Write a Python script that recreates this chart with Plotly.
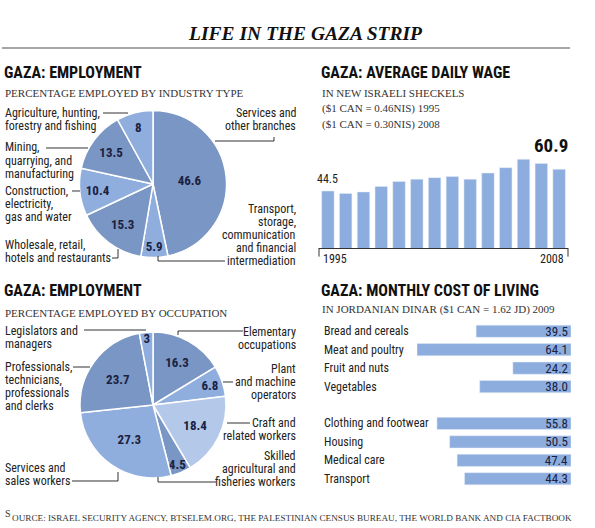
import plotly.graph_objects as go

W, H = 595, 528

# ---------------- data ----------------
industry_labels = ["Services and\nother branches",
                   "Transport,\nstorage,\ncommunication\nand financial\nintermediation",
                   "Wholesale, retail,\nhotels and restaurants",
                   "Construction,\nelectricity,\ngas and water",
                   "Mining,\nquarrying, and\nmanufacturing",
                   "Agriculture, hunting,\nforestry and fishing"]
industry_values = [46.6, 5.9, 15.3, 10.4, 13.5, 8]

occupation_labels = ["Elementary\noccupations",
                     "Plant\nand machine\noperators",
                     "Craft and\nrelated workers",
                     "Skilled\nagricultural and\nfisheries workers",
                     "Services and\nsales workers",
                     "Professionals,\ntechnicians,\nprofessionals\nand clerks",
                     "Legislators and\nmanagers"]
occupation_values = [16.3, 6.8, 18.4, 4.5, 27.3, 23.7, 3]

wage_years = [1995, 1996, 1997, 1998, 1999, 2000, 2001, 2002, 2003, 2004, 2005, 2006, 2007, 2008]
wage_values = [44.5, 43.2, 44.0, 46.8, 49.4, 50.6, 51.4, 52.0, 50.6, 53.8, 56.6, 60.9, 58.8, 55.7]

cost_items = ["Bread and cereals", "Meat and poultry", "Fruit and nuts", "Vegetables",
              "Clothing and footwear", "Housing", "Medical care", "Transport"]
cost_values = [39.5, 64.1, 24.2, 38.0, 55.8, 50.5, 47.4, 44.3]
cost_rows = [0, 1, 2, 3, 5, 6, 7, 8]

# ---------------- styles ----------------
SANS = "Liberation Sans Narrow, Roboto Condensed, DejaVu Sans Condensed, Arial Narrow, Liberation Sans, sans-serif"
SERIF = "Liberation Serif, DejaVu Serif, serif"
DARK = "#7A96C4"
LIGHT = "#8FAEDD"
LIGHTEST = "#B4C8EA"
BAR = "#8CADDE"
TXT = "#222222"
NUM = "#1B2140"

def px(x):
    return x / W

def py(y):
    return 1 - y / H

fig = go.Figure()

# ---------------- pies ----------------
def pie_domain(cx, cy, r):
    return dict(x=[px(cx - r), px(cx + r)], y=[py(cy + r), py(cy - r)])

fig.add_trace(go.Pie(
    values=industry_values, labels=[l.replace("\n", " ") for l in industry_labels],
    sort=False, direction="clockwise", rotation=0,
    marker=dict(colors=[DARK, LIGHT, DARK, LIGHT, DARK, LIGHT], line=dict(color="white", width=1.5)),
    texttemplate="<b>%{value}</b>", textposition="inside", insidetextorientation="horizontal",
    textfont=dict(family=SANS, size=13, color=NUM),
    domain=pie_domain(153, 184, 73.5), showlegend=False, hoverinfo="skip"))

fig.add_trace(go.Pie(
    values=occupation_values, labels=[l.replace("\n", " ") for l in occupation_labels],
    sort=False, direction="clockwise", rotation=0,
    marker=dict(colors=[DARK, LIGHT, LIGHTEST, DARK, LIGHT, DARK, LIGHT], line=dict(color="white", width=1.5)),
    texttemplate="<b>%{value}</b>", textposition="inside", insidetextorientation="horizontal",
    textfont=dict(family=SANS, size=13, color=NUM),
    domain=pie_domain(153, 405, 73), showlegend=False, hoverinfo="skip"))

# ---------------- wage bars ----------------
fig.add_trace(go.Bar(x=wage_years, y=wage_values, marker_color=BAR, width=0.7,
                     xaxis="x", yaxis="y", showlegend=False, hoverinfo="skip"))

# ---------------- cost bars ----------------
fig.add_trace(go.Bar(x=cost_values, y=cost_rows, orientation="h", marker_color=BAR, width=0.66,
                     texttemplate="%{x:.1f}", textposition="inside", insidetextanchor="start",
                     textangle=0, textfont=dict(family=SANS, size=12, color=NUM),
                     xaxis="x2", yaxis="y2", showlegend=False, hoverinfo="skip"))

annotations = []
shapes = []

def text(x, y, s, size=12, family=SANS, color=TXT, xanchor="left", **kw):
    annotations.append(dict(x=px(x), y=py(y), xref="paper", yref="paper", text=s, showarrow=False,
                             xanchor=xanchor, yanchor="middle", font=dict(family=family, size=size, color=color), **kw))

# title
text(306, 33, "<b><i>LIFE IN THE GAZA STRIP</i></b>", size=19.5, family=SERIF, color="#111111", xanchor="center")
shapes.append(dict(type="line", xref="paper", yref="paper", x0=px(2), x1=px(570), y0=py(48), y1=py(48),
                   line=dict(color="#888888", width=1.5)))

# headings
HEAD = 16
SUB = 11
text(2, 73, "<b>GAZA: EMPLOYMENT</b>", size=HEAD, color="#111111")
text(3, 93, "PERCENTAGE EMPLOYED BY INDUSTRY TYPE", size=SUB, family=SERIF, color="#333333")
text(2, 290, "<b>GAZA: EMPLOYMENT</b>", size=HEAD, color="#111111")
text(3, 313, "PERCENTAGE EMPLOYED BY OCCUPATION", size=SUB, family=SERIF, color="#333333")
text(319, 73, "<b>GAZA: AVERAGE DAILY WAGE</b>", size=HEAD, color="#111111")
text(320, 93, "IN NEW ISRAELI SHECKELS", size=SUB, family=SERIF, color="#333333")
text(320, 109, "($1 CAN = 0.46NIS) 1995", size=SUB, family=SERIF, color="#333333")
text(320, 124, "($1 CAN = 0.30NIS) 2008", size=SUB, family=SERIF, color="#333333")
text(319, 290, "<b>GAZA: MONTHLY COST OF LIVING</b>", size=HEAD, color="#111111")
text(320, 309, "IN JORDANIAN DINAR ($1 CAN = 1.62 JD) 2009", size=SUB, family=SERIF, color="#333333")

# source
text(3, 513, "S", size=10, family=SERIF, color="#333333")
text(10, 518, "OURCE: ISRAEL SECURITY AGENCY, BTSELEM.ORG, THE PALESTINIAN CENSUS BUREAU, THE WORLD BANK AND CIA FACTBOOK",
     size=9.2, family=SERIF, color="#333333")

# pie labels: (side, first line y)
STEP = 13
def multiline(label, side, y0):
    x = 3 if side == "left" else 298
    for i, line in enumerate(label.split("\n")):
        text(x, y0 + i * STEP, line, size=12, xanchor=side)

ind_layout = [("right", 113), ("right", 209), ("left", 245),
              ("left", 191), ("left", 147.5), ("left", 113)]
for lab, (side, y0) in zip(industry_labels, ind_layout):
    multiline(lab, side, y0)

occ_layout = [("right", 332), ("right", 368.5), ("right", 423), ("right", 456),
              ("left", 468), ("left", 366.5), ("left", 331)]
for lab, (side, y0) in zip(occupation_labels, occ_layout):
    multiline(lab, side, y0)

leaders = [
    [(103, 113), (128, 113)],
    [(46, 148), (88, 148)],
    [(72, 191), (80, 191)],
    [(112, 258), (118, 258), (118, 249)],
    [(215, 141), (274, 141), (274, 137)],
    [(225, 261), (158, 261), (158, 256)],
    [(84, 330), (146, 330)],
    [(73, 367), (90, 367)],
    [(72, 481), (118, 481), (118, 472)],
    [(243, 331), (178, 331), (178, 335)],
    [(223, 382), (233, 382)],
    [(227, 423), (250, 423)],
    [(216, 482), (158, 482), (158, 477)],
]
for pts in leaders:
    path = "M " + " L ".join(f"{px(a):.5f},{py(b):.5f}" for a, b in pts)
    shapes.append(dict(type="path", path=path, xref="paper", yref="paper",
                       line=dict(color="#333333", width=1)))

# wage chart labels
annotations.append(dict(x=wage_years[0], y=wage_values[0], xref="x", yref="y", text=f"{wage_values[0]}",
                        showarrow=False, yanchor="bottom", yshift=3, font=dict(family=SANS, size=12, color=TXT)))
imax = wage_values.index(max(wage_values))
annotations.append(dict(x=wage_years[imax], y=wage_values[imax], xref="x", yref="y", text=f"<b>{wage_values[imax]}</b>",
                        showarrow=False, yanchor="bottom", xshift=27, yshift=0, font=dict(family=SANS, size=19, color="#111111")))
annotations.append(dict(x=0.01, y=-0.015, xref="x domain", yref="y domain", text=str(wage_years[0]), showarrow=False,
                        xanchor="left", yanchor="top", font=dict(family=SANS, size=12, color=TXT)))
annotations.append(dict(x=0.99, y=-0.015, xref="x domain", yref="y domain", text=str(wage_years[-1]), showarrow=False,
                        xanchor="right", yanchor="top", font=dict(family=SANS, size=12, color=TXT)))
for xe in (0, 1):
    shapes.append(dict(type="line", xref="x domain", yref="y domain", x0=xe, x1=xe, y0=0, y1=-0.08,
                       line=dict(color="#333333", width=1)))

# cost labels
for item, row in zip(cost_items, cost_rows):
    annotations.append(dict(x=px(322), y=row, xref="paper", yref="y2", text=item, showarrow=False,
                            xanchor="left", yanchor="middle", font=dict(family=SANS, size=12, color=TXT)))

fig.update_layout(
    width=W, height=H, autosize=False,
    margin=dict(l=0, r=0, t=0, b=0),
    paper_bgcolor="white", plot_bgcolor="white",
    uniformtext=dict(minsize=13, mode="show"),
    xaxis=dict(domain=[px(319), px(568)], range=[wage_years[0] - 0.5, wage_years[-1] + 0.5],
               showline=True, linecolor="#333333", linewidth=1, showticklabels=False,
               showgrid=False, zeroline=False, ticks="", fixedrange=True),
    yaxis=dict(domain=[py(248), py(140)], range=[15, 70.9], visible=False, fixedrange=True),
    xaxis2=dict(domain=[px(417), px(571)], range=[max(cost_values), 0], visible=False, anchor="y2"),
    yaxis2=dict(domain=[py(488), py(322)], range=[8.5, -0.5], visible=False, anchor="x2"),
    annotations=annotations, shapes=shapes,
)

fig.write_html("out.html")
